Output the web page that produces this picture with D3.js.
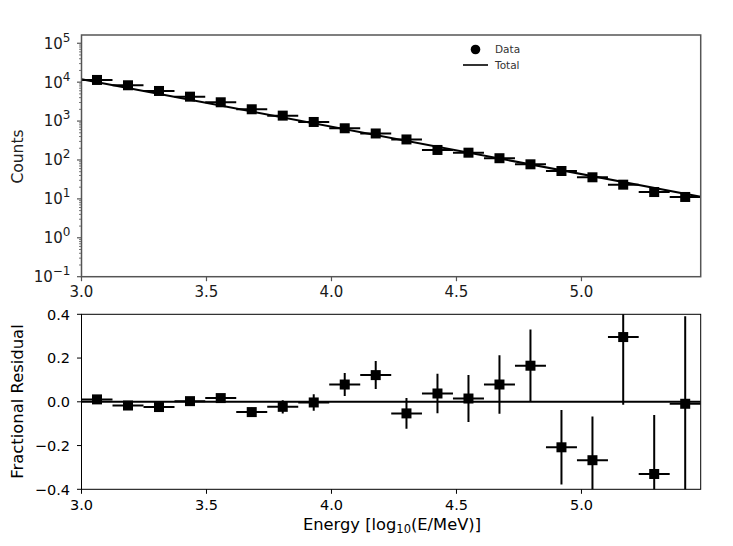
<!DOCTYPE html>
<html><head><meta charset="utf-8">
<script src="https://cdn.jsdelivr.net/npm/d3@7"></script>
<style>body{margin:0;background:#fff}text{font-family:"DejaVu Sans",sans-serif;fill:#000}</style>
</head><body><svg id="c" width="733" height="546"></svg>
<script>
// ---- data ----
const energy = [3.062,3.186,3.310,3.434,3.557,3.681,3.805,3.929,4.053,4.177,4.300,4.424,4.548,4.672,4.796,4.920,5.044,5.167,5.291,5.415];
const energyLow  = [3.000,3.124,3.248,3.372,3.495,3.619,3.743,3.867,3.991,4.115,4.239,4.362,4.486,4.610,4.734,4.858,4.982,5.106,5.229,5.353];
const energyHigh = [3.124,3.248,3.372,3.495,3.619,3.743,3.867,3.991,4.115,4.239,4.362,4.486,4.610,4.734,4.858,4.982,5.106,5.229,5.353,5.477];
const counts = [11400,8320,5940,4240,3040,2010,1380,948,653,480,337,181,154,111,77.4,52.1,35.9,23.2,15.0,11.2];
const totalEnergy = [3.0,5.477];
const totalCounts = [11900,11.4];
const residual = [0.011,-0.017,-0.024,0.003,0.017,-0.047,-0.023,-0.003,0.079,0.122,-0.053,0.038,0.015,0.079,0.165,-0.208,-0.267,0.296,-0.330,-0.009];
const residualErr = [0.008,0.010,0.012,0.014,0.016,0.020,0.030,0.038,0.053,0.064,0.070,0.090,0.107,0.134,0.166,0.170,0.200,0.310,0.270,0.400];
const xTicks = [3.0,3.5,4.0,4.5,5.0];
const countTicks = [-1,0,1,2,3,4,5];
const resTicks = [-0.4,-0.2,0.0,0.2,0.4];
const xDomain = [3.0,5.477];
const countDomain = [0.1,163000];
const resDomain = [-0.4,0.4];

// ---- layout ----
const svg = d3.select("#c");
const L = 81.5, R = 700.7;
const topT = 35, topB = 276.7, botT = 314.3, botB = 489.3;
const x = d3.scaleLinear().domain(xDomain).range([L,R]);
const yTop = d3.scaleLog().domain(countDomain).range([topB,topT]);
const yBot = d3.scaleLinear().domain(resDomain).range([botB,botT]);

const defs = svg.append("defs");
defs.append("clipPath").attr("id","clipTop").append("rect").attr("x",L).attr("y",topT).attr("width",R-L).attr("height",topB-topT);
defs.append("clipPath").attr("id","clipBot").append("rect").attr("x",L).attr("y",botT).attr("width",R-L).attr("height",botB-botT);

// ===== top panel =====
const gT = svg.append("g").attr("clip-path","url(#clipTop)");
gT.append("path").datum(totalEnergy.map((e,i)=>[e,totalCounts[i]]))
  .attr("d", d3.line().x(d=>x(d[0])).y(d=>yTop(d[1])))
  .attr("fill","none").attr("stroke","#000").attr("stroke-width",2);
gT.selectAll(".hb").data(counts).join("line")
  .attr("x1",(d,i)=>x(energyLow[i])).attr("x2",(d,i)=>x(energyHigh[i]))
  .attr("y1",d=>yTop(d)).attr("y2",d=>yTop(d))
  .attr("stroke","#000").attr("stroke-width",2);
gT.selectAll(".mk").data(counts).join("rect")
  .attr("x",(d,i)=>x(energy[i])-5).attr("y",d=>yTop(d)-5)
  .attr("width",10).attr("height",10).attr("fill","#000");

svg.append("rect").attr("x",L).attr("y",topT).attr("width",R-L).attr("height",topB-topT)
  .attr("fill","none").attr("stroke","#555").attr("stroke-width",1.5);

const gYT = svg.append("g");
countTicks.forEach(p=>{
  const yy = yTop(Math.pow(10,p));
  gYT.append("line").attr("x1",L-4.5).attr("x2",L).attr("y1",yy).attr("y2",yy).attr("stroke","#555").attr("stroke-width",1.2);
  const t = gYT.append("text").attr("x",L-11).attr("y",yy).attr("dy","0.36em").attr("text-anchor","end").attr("font-size",15).style("fill","#1a1a1a");
  t.append("tspan").text("10");
  t.append("tspan").attr("dy",-7).attr("font-size",12).text(p<0?"\u2212"+Math.abs(p):String(p));
  [2,3,4,5,6,7,8,9].forEach(m=>{
    const v=m*Math.pow(10,p);
    if (v<=countDomain[1]) { const ym=yTop(v);
      gYT.append("line").attr("x1",L-2.5).attr("x2",L).attr("y1",ym).attr("y2",ym).attr("stroke","#555").attr("stroke-width",0.8);}
  });
});
xTicks.forEach(v=>{
  svg.append("line").attr("x1",x(v)).attr("x2",x(v)).attr("y1",topB).attr("y2",topB+4.5).attr("stroke","#555").attr("stroke-width",1.2);
  svg.append("text").attr("x",x(v)).attr("y",297).attr("text-anchor","middle").attr("font-size",15).style("fill","#1a1a1a").text(v.toFixed(1));
});
svg.append("text").attr("transform","translate(23,156.5) rotate(-90)").attr("text-anchor","middle").attr("font-size",15.5).style("fill","#222").text("Counts");

// legend
svg.append("circle").attr("cx",475.5).attr("cy",49.5).attr("r",4.8).attr("fill","#000");
svg.append("text").attr("x",495).attr("y",53).attr("font-size",10.5).style("fill","#333").text("Data");
svg.append("line").attr("x1",463).attr("x2",488).attr("y1",65).attr("y2",65).attr("stroke","#000").attr("stroke-width",1.6);
svg.append("text").attr("x",495).attr("y",69).attr("font-size",10.5).style("fill","#333").text("Total");

// ===== bottom panel =====
const gB = svg.append("g").attr("clip-path","url(#clipBot)");
gB.append("line").attr("x1",L).attr("x2",R).attr("y1",yBot(0)).attr("y2",yBot(0)).attr("stroke","#000").attr("stroke-width",2);
gB.selectAll(".hb").data(residual).join("line")
  .attr("x1",(d,i)=>x(energyLow[i])).attr("x2",(d,i)=>x(energyHigh[i]))
  .attr("y1",d=>yBot(d)).attr("y2",d=>yBot(d))
  .attr("stroke","#000").attr("stroke-width",2);
gB.selectAll(".vb").data(residual).join("line")
  .attr("x1",(d,i)=>x(energy[i])).attr("x2",(d,i)=>x(energy[i]))
  .attr("y1",(d,i)=>yBot(d-residualErr[i])).attr("y2",(d,i)=>yBot(d+residualErr[i]))
  .attr("stroke","#000").attr("stroke-width",2);
gB.selectAll(".mk").data(residual).join("rect")
  .attr("x",(d,i)=>x(energy[i])-5).attr("y",d=>yBot(d)-5)
  .attr("width",10).attr("height",10).attr("fill","#000");
svg.append("rect").attr("x",L).attr("y",botT).attr("width",R-L).attr("height",botB-botT)
  .attr("fill","none").attr("stroke","#000").attr("stroke-width",1);

resTicks.forEach(v=>{
  const yy=yBot(v);
  svg.append("line").attr("x1",L-4.5).attr("x2",L).attr("y1",yy).attr("y2",yy).attr("stroke","#000").attr("stroke-width",1);
  svg.append("text").attr("x",L-11.5).attr("y",yy).attr("dy","0.36em").attr("text-anchor","end").attr("font-size",14.5)
    .text((v<0?"\u2212":"")+Math.abs(v).toFixed(1));
});
xTicks.forEach(v=>{
  svg.append("line").attr("x1",x(v)).attr("x2",x(v)).attr("y1",botB).attr("y2",botB+4.5).attr("stroke","#000").attr("stroke-width",1);
  svg.append("text").attr("x",x(v)).attr("y",510).attr("text-anchor","middle").attr("font-size",14.5).text(v.toFixed(1));
});
const xl = svg.append("text").attr("x",392).attr("y",530).attr("text-anchor","middle").attr("font-size",16.3);
xl.append("tspan").text("Energy [log");
xl.append("tspan").attr("font-size",11.5).attr("dy",3).text("10");
xl.append("tspan").attr("dy",-3).text("(E/MeV)]");
svg.append("text").attr("transform","translate(22.5,401.5) rotate(-90)").attr("text-anchor","middle").attr("font-size",16.4).text("Fractional Residual");
</script></body></html>
